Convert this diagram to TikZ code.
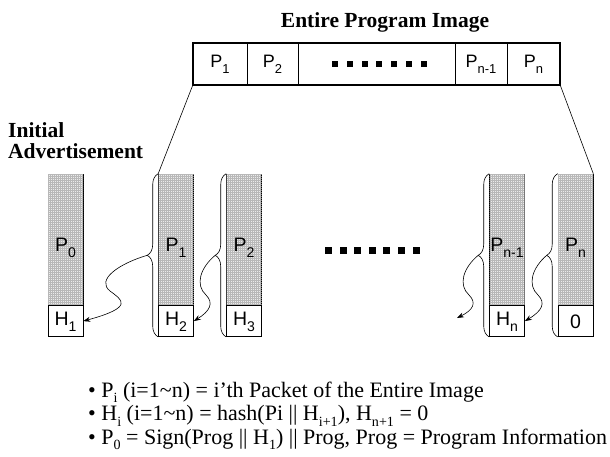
\documentclass[tikz,border=0pt]{standalone}
\usepackage{graphicx}
\usepackage{fontspec}
\setmainfont{Liberation Serif}
\newfontfamily\labfont{Liberation Sans}
\newcommand{\lsub}[1]{\raisebox{-0.32em}{\scalebox{0.72}{#1}}}
\newcommand{\tsub}[1]{\raisebox{-0.27em}{\scalebox{0.64}{#1}}}
\setlength{\lineskiplimit}{-30pt}
\usetikzlibrary{decorations.pathreplacing,patterns.meta,arrows.meta,calc}
\begin{document}
\begin{tikzpicture}[x=1pt,y=1pt,
  cell/.style={draw, line width=0.6pt, minimum height=42pt, inner sep=0pt, font=\labfont\fontsize{18}{18}\selectfont},
  gpart/.style={draw, line width=0.6pt, minimum width=35pt, minimum height=131pt, inner sep=0pt, fill=black!8,
    postaction={pattern={Hatch[distance=2pt,line width=0.35pt]}, pattern color=black!28}},
  hpart/.style={draw, line width=0.6pt, fill=white, minimum width=35pt, minimum height=31pt, inner sep=0pt},
  lab/.style={font=\labfont\fontsize{19.5}{19.5}\selectfont, inner sep=0pt},
  bracestyle/.style={decorate, decoration={brace, amplitude=11pt}, line width=0.6pt},
  wave/.style={line width=0.6pt, -{Stealth[length=7pt,width=5pt]}},
  sq/.style={fill=black, minimum size=6pt, inner sep=0pt},
  bigsq/.style={fill=black, minimum size=7pt, inner sep=0pt},
  btitle/.style={font=\bfseries\fontsize{21.5}{21.5}\selectfont, inner sep=0pt},
  note/.style={anchor=base west, inner sep=0pt, align=left, font=\fontsize{22}{23.5}\selectfont},
]
\useasboundingbox (0,0) rectangle (610,-456);

% title
\node[btitle, anchor=base] (title) at (385,-27) {Entire Program Image};

% top bar
\node[cell, minimum width=54pt] (b1) at (220,-64) {P\lsub{1}};
\node[cell, minimum width=51pt] (b2) at (272.5,-64) {P\lsub{2}};
\node[cell, minimum width=157pt] (b3) at (376.5,-64) {};
\node[cell, minimum width=52pt] (b4) at (481,-64) {P\lsub{n-1}};
\node[cell, minimum width=53pt] (b5) at (533.5,-64) {P\lsub{n}};
\draw[line width=1.8pt] (b1.north west) rectangle (b5.south east);
\foreach \i in {0,...,6} \node[sq] (bd\i) at (335+14.8*\i,-64) {};

% left label
\node[btitle, anchor=base west, align=left, font=\bfseries\fontsize{21.5}{21}\selectfont] (init) at (8,-158) {Initial\\Advertisement};

% columns
\foreach \n/\x/\gl/\hl in {0/65.5/P\lsub{0}/H\lsub{1},
                            1/176/P\lsub{1}/H\lsub{2},
                            2/244/P\lsub{2}/H\lsub{3},
                            3/507/P\lsub{n-1}/H\lsub{n},
                            4/575.5/P\lsub{n}/0}{
  \node[gpart] (g\n) at (\x,-239.5) {};
  \node[hpart, anchor=north] (h\n) at (g\n.south) {};
  \node[lab] (gl\n) at ([yshift=-8pt]g\n.center) {\gl};
  \node[lab] (hl\n) at ([yshift=-1pt]h\n.center) {\hl};
}

% middle dots
\foreach \i in {0,...,6} \node[bigsq] (md\i) at (328.5+14.6*\i,-250) {};

% fan lines
\draw[line width=0.6pt] (b1.south west) -- (g1.north west);
\draw[line width=0.6pt] (b5.south east) -- (g4.north east);

% braces and tips
\foreach \n in {1,2,3,4}{
  \draw[bracestyle] (h\n.south west) -- (g\n.north west);
  \coordinate (t\n) at ($(h\n.south west)!0.5!(g\n.north west)+(-11,0)$);
}
\coordinate (e3) at (457,-318);

% wavy arrows
\draw[wave] (t1) .. controls (118,-264) and (96,-280) .. (110,-291)
             .. controls (122,-300) and (135,-307) .. (h0.east);
\draw[wave] (t2) .. controls (200,-268) and (195,-285) .. (206,-295)
             .. controls (214,-303) and (210,-311) .. (h1.east);
\draw[wave] (t3) .. controls (463,-268) and (458,-285) .. (469,-295)
             .. controls (477,-303) and (473,-310) .. (e3);
\draw[wave] (t4) .. controls (532,-268) and (527,-285) .. (538,-295)
             .. controls (546,-303) and (542,-311) .. (h3.east);

% notes
\node[note] (notes) at (88,-444) {• P\tsub{i} (i=1\textasciitilde n) = i’th Packet of the Entire Image\\
• H\tsub{i} (i=1\textasciitilde n) = hash(Pi || H\tsub{i+1}), H\tsub{n+1} = 0\\
• P\tsub{0} = Sign(Prog || H\tsub{1}) || Prog, Prog = Program Information};
\end{tikzpicture}
\end{document}
